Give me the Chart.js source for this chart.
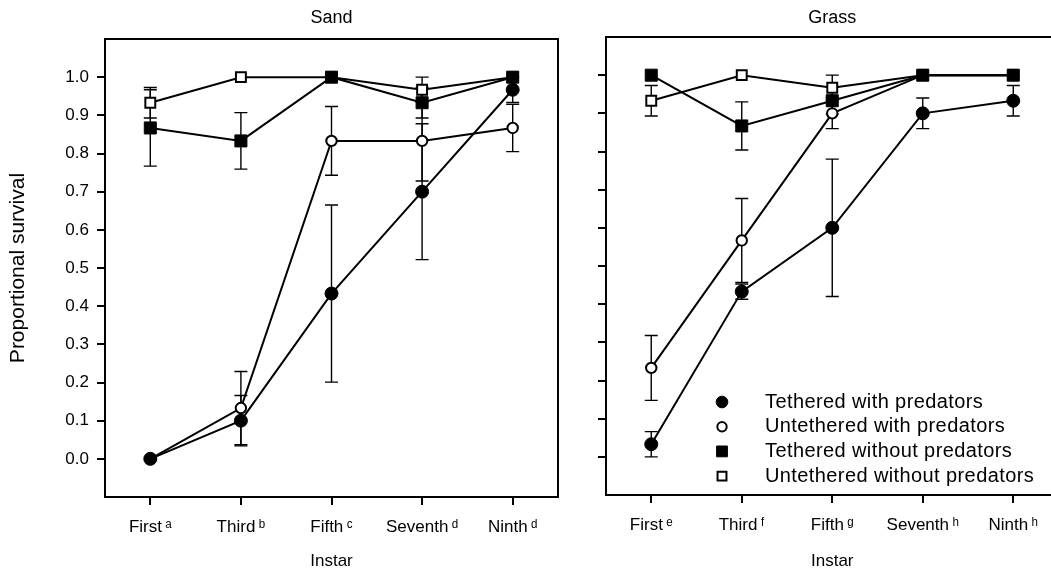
<!DOCTYPE html>
<html>
<head>
    <title>Proportional survival by instar</title>
    <script src="https://cdn.jsdelivr.net/npm/chart.js"></script>
    <style>
        body { margin: 0; background: #fff; overflow: hidden; width: 1051px; height: 576px; position: relative; }
        canvas { position: absolute; top: 0; }
        #sandChart { left: 0; }
        #grassChart { left: 570px; }
    </style>
</head>
<body>
    <canvas id="sandChart" width="570" height="576"></canvas>
    <canvas id="grassChart" width="500" height="576"></canvas>

    <script>
        // instar stages, with the significance letters as superscripts
        const sandLabels = ['First\u2009\u1d43', 'Third\u2009\u1d47', 'Fifth\u2009\u1d9c', 'Seventh\u2009\u1d48', 'Ninth\u2009\u1d48'];
        const grassLabels = ['First\u2009\u1d49', 'Third\u2009\u1da0', 'Fifth\u2009\u1d4d', 'Seventh\u2009\u02b0', 'Ninth\u2009\u02b0'];
        const yTicks = [0, 0.1, 0.2, 0.3, 0.4, 0.5, 0.6, 0.7, 0.8, 0.9, 1.0];

        const seriesNames = ['Tethered with predators', 'Untethered with predators',
                             'Tethered without predators', 'Untethered without predators'];

        // Sand: mean proportional survival and error (+/-)
        const sandTetheredPred = [0.0, 0.10, 0.433, 0.70, 0.967];
        const sandTetheredPredErr = [0, 0.066, 0.232, 0.178, 0.033];
        const sandUntetheredPred = [0.0, 0.133, 0.833, 0.833, 0.867];
        const sandUntetheredPredErr = [0, 0.096, 0.09, 0.105, 0.062];
        const sandTetheredNoPred = [0.867, 0.833, 1.0, 0.933, 1.0];
        const sandTetheredNoPredErr = [0.1, 0.074, 0, 0.04, 0];
        const sandUntetheredNoPred = [0.933, 1.0, 1.0, 0.967, 1.0];
        const sandUntetheredNoPredErr = [0.04, 0, 0, 0.033, 0];

        // Grass
        const grassTetheredPred = [0.033, 0.433, 0.60, 0.90, 0.933];
        const grassTetheredPredErr = [0.033, 0.02, 0.18, 0.04, 0.04];
        const grassUntetheredPred = [0.233, 0.567, 0.90, 1.0, 1.0];
        const grassUntetheredPredErr = [0.085, 0.11, 0.04, 0, 0];
        const grassTetheredNoPred = [1.0, 0.867, 0.933, 1.0, 1.0];
        const grassTetheredNoPredErr = [0, 0.063, 0.035, 0, 0];
        const grassUntetheredNoPred = [0.933, 1.0, 0.967, 1.0, 1.0];
        const grassUntetheredNoPredErr = [0.04, 0, 0.033, 0, 0];

        const FONT = "'Liberation Sans', Arial, Helvetica, sans-serif";

        // marker look for each series, same order as seriesNames
        const markers = [
            { pointStyle: 'circle', radius: 6.5, fill: '#000', border: 1, order: 0 },
            { pointStyle: 'circle', radius: 5.2, fill: '#fff', border: 2, order: 1 },
            { pointStyle: 'rect',   radius: 8.5, fill: '#000', border: 1, order: 0 },
            { pointStyle: 'rect',   radius: 7,   fill: '#fff', border: 2, order: 1 }
        ];

        function buildDatasets(values, errors) {
            return values.map((vals, i) => ({
                label: seriesNames[i],
                data: vals,
                errors: errors[i],
                order: markers[i].order,
                borderColor: '#000',
                borderWidth: 2,
                fill: false,
                pointStyle: markers[i].pointStyle,
                pointRadius: markers[i].radius,
                pointBackgroundColor: markers[i].fill,
                pointBorderColor: '#000',
                pointBorderWidth: markers[i].border
            }));
        }

        // vertical error bars with caps, drawn below the markers
        const errorBars = {
            id: 'errorBars',
            beforeDatasetsDraw(chart) {
                const ctx = chart.ctx;
                const y = chart.scales.y;
                ctx.save();
                ctx.strokeStyle = '#000';
                ctx.lineWidth = 1.4;
                chart.data.datasets.forEach((ds, i) => {
                    const meta = chart.getDatasetMeta(i);
                    ds.errors.forEach((e, j) => {
                        if (!e) return;
                        const x = meta.data[j].x;
                        const hi = y.getPixelForValue(ds.data[j] + e);
                        const lo = y.getPixelForValue(ds.data[j] - e);
                        ctx.beginPath();
                        ctx.moveTo(x, hi); ctx.lineTo(x, lo);
                        ctx.moveTo(x - 6.5, hi); ctx.lineTo(x + 6.5, hi);
                        ctx.moveTo(x - 6.5, lo); ctx.lineTo(x + 6.5, lo);
                        ctx.stroke();
                    });
                });
                ctx.restore();
            }
        };

        // closes the box: top and right edges, plus the panel name above
        function framePlugin(title, titleY) {
            return {
                id: 'frame',
                afterDraw(chart) {
                    const { ctx, chartArea: a } = chart;
                    ctx.save();
                    ctx.strokeStyle = '#000';
                    ctx.lineWidth = 2;
                    ctx.beginPath();
                    ctx.moveTo(a.left, a.top);
                    ctx.lineTo(a.right, a.top);
                    ctx.lineTo(a.right, a.bottom);
                    ctx.stroke();
                    ctx.fillStyle = '#000';
                    ctx.font = '18px ' + FONT;
                    ctx.textAlign = 'center';
                    ctx.textBaseline = 'middle';
                    ctx.fillText(title, (a.left + a.right) / 2, titleY);
                    ctx.restore();
                }
            };
        }

        // key in the lower right of the grass panel
        const keyPlugin = {
            id: 'key',
            afterDraw(chart) {
                const { ctx, chartArea: a } = chart;
                ctx.save();
                ctx.font = '20px ' + FONT;
                ctx.letterSpacing = '0.4px';
                ctx.textBaseline = 'middle';
                ctx.textAlign = 'left';
                chart.data.datasets.forEach((ds, i) => {
                    const m = markers[i];
                    const yy = a.bottom - 93 + i * 24.7;
                    ctx.fillStyle = m.fill;
                    ctx.strokeStyle = '#000';
                    ctx.lineWidth = m.border;
                    Chart.helpers.drawPoint(ctx, {
                        pointStyle: m.pointStyle, rotation: 0,
                        radius: m.radius * 0.9, borderWidth: m.border
                    }, a.left + 116, yy);
                    ctx.fillStyle = '#000';
                    ctx.fillText(ds.label, a.left + 159, yy);
                });
                ctx.restore();
            }
        };

        function makePanel(id, cfg) {
            const ctx = document.getElementById(id).getContext('2d');
            return new Chart(ctx, {
                type: 'line',
                data: { labels: cfg.labels, datasets: buildDatasets(cfg.values, cfg.errors) },
                options: {
                    responsive: false,
                    animation: false,
                    layout: { padding: { top: cfg.top, right: cfg.right, left: 0, bottom: 0 } },
                    plugins: { legend: { display: false }, tooltip: { enabled: false } },
                    scales: {
                        x: {
                            type: 'category',
                            offset: true,
                            grid: { offset: false, drawOnChartArea: false, drawTicks: true, tickLength: 8, color: '#000', lineWidth: 2 },
                            border: { color: '#000', width: 2 },
                            ticks: { color: '#000', padding: 12, autoSkip: false, maxRotation: 0, font: { family: FONT, size: 17 } },
                            title: { display: true, text: 'Instar', color: '#000', padding: { bottom: 4 }, font: { family: FONT, size: 17 } },
                            afterFit: s => { s.height = cfg.xHeight; }
                        },
                        y: {
                            min: -0.1,
                            max: 1.1,
                            afterBuildTicks: s => { s.ticks = yTicks.map(v => ({ value: v })); },
                            grid: { drawOnChartArea: false, drawTicks: true, tickLength: 8, color: '#000', lineWidth: 2 },
                            border: { color: '#000', width: 2 },
                            ticks: { display: cfg.showY, color: '#000', padding: 8, font: { family: FONT, size: 17 },
                                     callback: v => Number(v).toFixed(1) },
                            title: { display: cfg.showY, text: 'Proportional survival', color: '#000',
                                     padding: { top: 6 }, font: { family: FONT, size: 21 } },
                            afterFit: s => { s.width = cfg.yWidth; }
                        }
                    }
                },
                plugins: cfg.plugins
            });
        }

        makePanel('sandChart', {
            labels: sandLabels,
            values: [sandTetheredPred, sandUntetheredPred, sandTetheredNoPred, sandUntetheredNoPred],
            errors: [sandTetheredPredErr, sandUntetheredPredErr, sandTetheredNoPredErr, sandUntetheredNoPredErr],
            top: 39, right: 12, xHeight: 79, yWidth: 105, showY: true,
            plugins: [errorBars, framePlugin('Sand', 18)]
        });

        makePanel('grassChart', {
            labels: grassLabels,
            values: [grassTetheredPred, grassUntetheredPred, grassTetheredNoPred, grassUntetheredNoPred],
            errors: [grassTetheredPredErr, grassUntetheredPredErr, grassTetheredNoPredErr, grassUntetheredNoPredErr],
            top: 37, right: 11.5, xHeight: 81, yWidth: 36, showY: false,
            plugins: [errorBars, framePlugin('Grass', 18), keyPlugin]
        });
    </script>
</body>
</html>
